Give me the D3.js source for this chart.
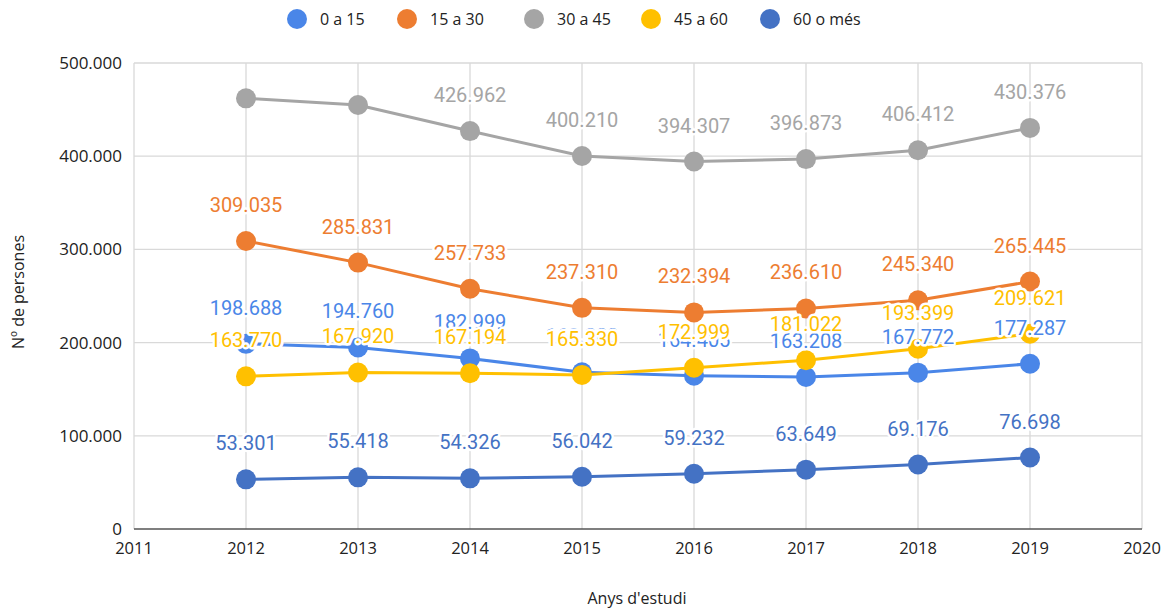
<!DOCTYPE html>
<html>
<head>
<meta charset="utf-8">
<script src="https://cdn.jsdelivr.net/npm/d3@7"></script>
<style>
  body { margin: 0; background: #fff; }
  svg { display: block; }
</style>
</head>
<body>
<div id="chart"></div>
<script>
// Dades: persones per franja d'edat i any
const anys = [2012, 2013, 2014, 2015, 2016, 2017, 2018, 2019];
const franges = ["0 a 15", "15 a 30", "30 a 45", "45 a 60", "60 o més"];
const colors = ["#4a86e8", "#ed7d31", "#a5a5a5", "#ffc000", "#4472c4"];

const v0a15 = [198688, 194760, 182999, 168200, 164405, 163208, 167772, 177287];
const v15a30 = [309035, 285831, 257733, 237310, 232394, 236610, 245340, 265445];
const v30a45 = [462100, 454900, 426962, 400210, 394307, 396873, 406412, 430376];
const v45a60 = [163770, 167920, 167194, 165330, 172999, 181022, 193399, 209621];
const v60mes = [53301, 55418, 54326, 56042, 59232, 63649, 69176, 76698];

const valors = [v0a15, v15a30, v30a45, v45a60, v60mes];

const yTicks = [0, 100000, 200000, 300000, 400000, 500000];
const xTicks = [2011, 2012, 2013, 2014, 2015, 2016, 2017, 2018, 2019, 2020];

// etiquetes que no es mostren
const ocultes = { "2-0": true, "2-1": true };

const W = 1168, H = 610;
const margin = { top: 63, right: 26, bottom: 81, left: 134 };
const width = W - margin.left - margin.right;
const height = H - margin.top - margin.bottom;

const fmt = v => d3.format(",")(v).replace(/,/g, ".");

const svg = d3.select("#chart").append("svg")
  .attr("width", W)
  .attr("height", H);

const g = svg.append("g")
  .attr("transform", `translate(${margin.left},${margin.top})`);

const x = d3.scaleLinear().domain([2011, 2020]).range([0, width]);
const y = d3.scaleLinear().domain([0, 500000]).range([height, 0]);

// graella
g.append("g")
  .selectAll("line")
  .data(yTicks.slice(1))
  .join("line")
  .attr("x1", 0).attr("x2", width)
  .attr("y1", d => y(d)).attr("y2", d => y(d))
  .attr("stroke", "#d9d9d9").attr("stroke-width", 1.3);

g.append("g")
  .selectAll("line")
  .data(xTicks)
  .join("line")
  .attr("x1", d => x(d)).attr("x2", d => x(d))
  .attr("y1", 0).attr("y2", height)
  .attr("stroke", "#d9d9d9").attr("stroke-width", 1.3);

// eix inferior
g.append("line")
  .attr("x1", 0).attr("x2", width)
  .attr("y1", height).attr("y2", height)
  .attr("stroke", "#555").attr("stroke-width", 1.5);

// etiquetes eix Y
g.append("g")
  .selectAll("text")
  .data(yTicks)
  .join("text")
  .attr("x", -12)
  .attr("y", d => y(d))
  .attr("dy", "0.35em")
  .attr("text-anchor", "end")
  .style("font-family", "'Open Sans', sans-serif")
  .style("font-size", "17px")
  .attr("fill", "#222")
  .text(d => fmt(d));

// etiquetes eix X
g.append("g")
  .selectAll("text")
  .data(xTicks)
  .join("text")
  .attr("x", d => x(d))
  .attr("y", height + 25)
  .attr("text-anchor", "middle")
  .style("font-family", "'Open Sans', sans-serif")
  .style("font-size", "16.5px")
  .attr("fill", "#222")
  .text(d => d);

// títols dels eixos
svg.append("text")
  .attr("transform", `translate(24, ${margin.top + height / 2 - 4}) rotate(-90)`)
  .attr("text-anchor", "middle")
  .style("font-family", "'Open Sans', sans-serif")
  .style("font-size", "16px")
  .attr("fill", "#222")
  .text("Nº de persones");

svg.append("text")
  .attr("x", 637)
  .attr("y", 604)
  .attr("text-anchor", "middle")
  .style("font-family", "'Open Sans', sans-serif")
  .style("font-size", "16px")
  .attr("fill", "#222")
  .text("Anys d'estudi");

// línies i punts
const line = d3.line()
  .x((d, i) => x(anys[i]))
  .y(d => y(d));

valors.forEach((serie, s) => {
  g.append("path")
    .datum(serie)
    .attr("fill", "none")
    .attr("stroke", colors[s])
    .attr("stroke-width", 3)
    .attr("d", line);

  g.append("g")
    .selectAll("circle")
    .data(serie)
    .join("circle")
    .attr("cx", (d, i) => x(anys[i]))
    .attr("cy", d => y(d))
    .attr("r", 10)
    .attr("fill", colors[s]);
});

// etiquetes de dades
valors.forEach((serie, s) => {
  g.append("g")
    .selectAll("text")
    .data(serie.map((v, i) => ({ v, i })).filter(d => !ocultes[`${s}-${d.i}`]))
    .join("text")
    .attr("x", d => x(anys[d.i]))
    .attr("y", d => y(d.v) - 36)
    .attr("dy", "0.35em")
    .attr("text-anchor", "middle")
    .style("font-family", "Roboto, sans-serif")
    .style("font-size", "20px")
    .attr("fill", colors[s])
    .attr("stroke", "#fff")
    .attr("stroke-width", 5)
    .attr("stroke-linejoin", "round")
    .style("paint-order", "stroke")
    .text(d => fmt(d.v));
});

// llegenda
const legendX = [297, 407, 534, 651, 770];
const legend = svg.append("g")
  .selectAll("g")
  .data(franges)
  .join("g")
  .attr("transform", (d, i) => `translate(${legendX[i]}, 19)`);

legend.append("circle")
  .attr("r", 10)
  .attr("fill", (d, i) => colors[i]);

legend.append("text")
  .attr("x", 23)
  .attr("dy", "0.35em")
  .style("font-family", "'Open Sans', sans-serif")
  .style("font-size", "16px")
  .attr("fill", "#222")
  .text(d => d);
</script>
</body>
</html>
